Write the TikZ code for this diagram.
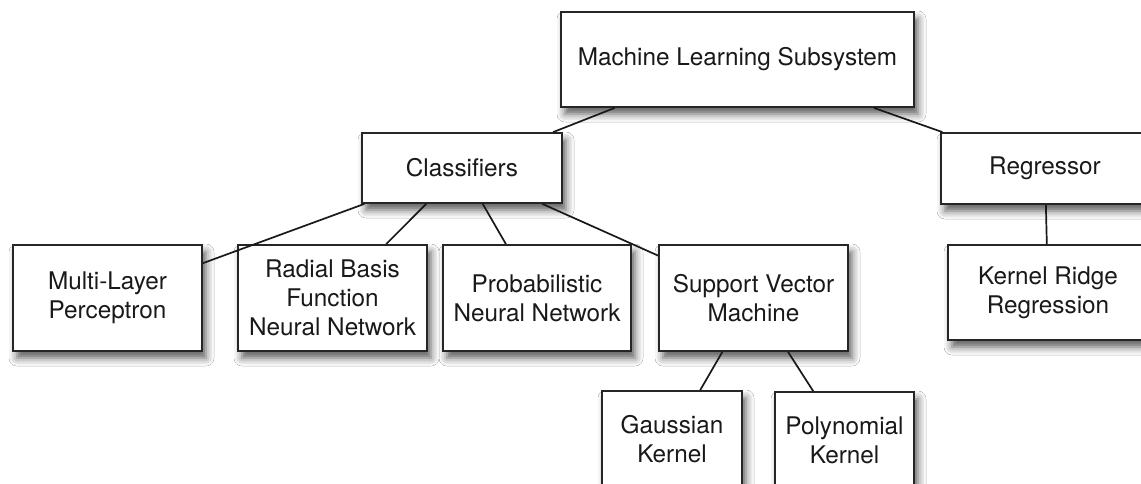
\documentclass[tikz,border=0pt]{standalone}
\usepackage{fontspec}
\setmainfont{TeX Gyre Heros}
\usetikzlibrary{shadows.blur}
\tikzset{
  box/.style={draw=black!85, line width=1.8pt, fill=white, inner sep=0pt,
    align=center, font=\fontsize{24.3}{29}\selectfont, text=black!90,
    blur shadow={shadow xshift=4pt, shadow yshift=-7pt, shadow blur radius=8pt, shadow opacity=65}},
  link/.style={draw=black!90, line width=1.7pt}
}
\begin{document}
\begin{tikzpicture}[x=1pt,y=-1pt]
\clip (0,0) rectangle (1141,484);
\fill[white] (0,0) rectangle (1141,484);
\node[box, minimum width=353pt, minimum height=95pt] (ml) at (737.5,59.5) {Machine Learning Subsystem};
\node[box, minimum width=200pt, minimum height=70pt] (cls) at (462,168) {Classifiers};
\node[box, minimum width=208pt, minimum height=71pt] (reg) at (1045,168.5) {Regressor};
\node[box, minimum width=189pt, minimum height=106pt] (mlp) at (107.5,298) {Multi-Layer\\Perceptron};
\node[box, minimum width=189pt, minimum height=106pt] (rbf) at (332.5,298) {Radial Basis\\Function\\Neural Network};
\node[box, minimum width=188pt, minimum height=106pt] (pnn) at (537,298) {Probabilistic\\Neural Network};
\node[box, minimum width=189pt, minimum height=106pt] (svm) at (753.5,298) {Support Vector\\Machine};
\node[box, minimum width=200pt, minimum height=95pt] (krr) at (1048,292.5) {Kernel Ridge\\Regression};
\node[box, minimum width=140pt, minimum height=96pt] (gk) at (672,439) {Gaussian\\Kernel};
\node[box, minimum width=139pt, minimum height=96pt] (pk) at (844.5,440) {Polynomial\\Kernel};
\path[link] (ml) -- (cls);
\path[link] (ml) -- (reg);
\path[link] (cls) -- (mlp);
\path[link] (cls) -- (rbf);
\path[link] (cls) -- (pnn);
\path[link] (cls) -- (svm);
\path[link] (reg) -- (krr);
\path[link] (svm) -- (gk);
\path[link] (svm) -- (pk);
\end{tikzpicture}
\end{document}
